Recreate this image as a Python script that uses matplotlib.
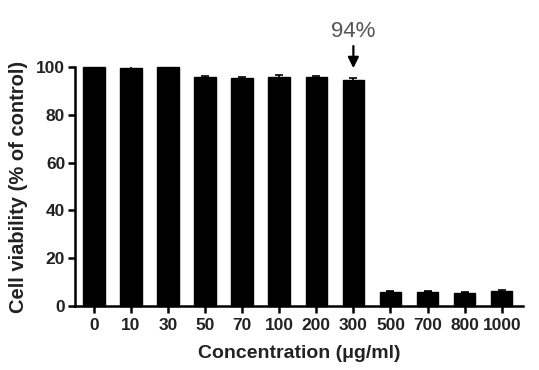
import matplotlib
matplotlib.use("Agg")
import matplotlib.pyplot as plt
import numpy as np

categories = ["0", "10", "30", "50", "70", "100", "200", "300", "500", "700", "800", "1000"]
values = [100, 99.5, 100, 95.6, 95.4, 96.0, 95.6, 94.5, 6.0, 6.0, 5.6, 6.2]
errors = [0.3, 1.0, 0.3, 0.6, 0.3, 0.5, 0.5, 1.0, 0.3, 0.3, 0.3, 0.3]
yticks = [0, 20, 40, 60, 80, 100]

plt.rcParams['font.family'] = ['Liberation Sans', 'DejaVu Sans']

fig = plt.figure(figsize=(5.39, 3.70), dpi=100)
ax = fig.add_axes([0.139, 0.173, 0.831, 0.646])

x = np.arange(len(categories))
ax.bar(x, values, width=0.58, color='black', edgecolor='black',
       yerr=errors, error_kw=dict(ecolor='black', elinewidth=1.2, capsize=3, capthick=1.2),
       clip_on=False, zorder=3)

ax.set_xlim(-0.51, len(categories) - 1 + 0.57)
ax.set_ylim(0, 100)
ax.set_xticks(x)
ax.set_xticklabels(categories, fontsize=12.5, fontweight='bold', color='#222222')
ax.set_yticks(yticks)
ax.set_yticklabels([str(t) for t in yticks], fontsize=12.5, fontweight='bold', color='#222222')

for s in ['top', 'right']:
    ax.spines[s].set_visible(False)
for s in ['left', 'bottom']:
    ax.spines[s].set_linewidth(1.8)
ax.tick_params(axis='both', direction='out', length=5, width=1.8)
ax.tick_params(axis='x', pad=3.5)
ax.tick_params(axis='y', pad=2)

ax.set_xlabel("Concentration (\u03bcg/ml)", fontsize=14, fontweight='bold', color='#222222', labelpad=9)
ax.set_ylabel("Cell viability (% of control)", fontsize=14.5, fontweight='bold', color='#222222', labelpad=6)

ax.annotate("94%", xy=(7, 99.5), xytext=(7, 110.5),
            ha='center', va='bottom', fontsize=16, color='#555555',
            arrowprops=dict(arrowstyle='-|>', color='black', lw=1.6, mutation_scale=16,
                            shrinkA=1, shrinkB=0),
            annotation_clip=False)

fig.savefig("out.png", dpi=100)
